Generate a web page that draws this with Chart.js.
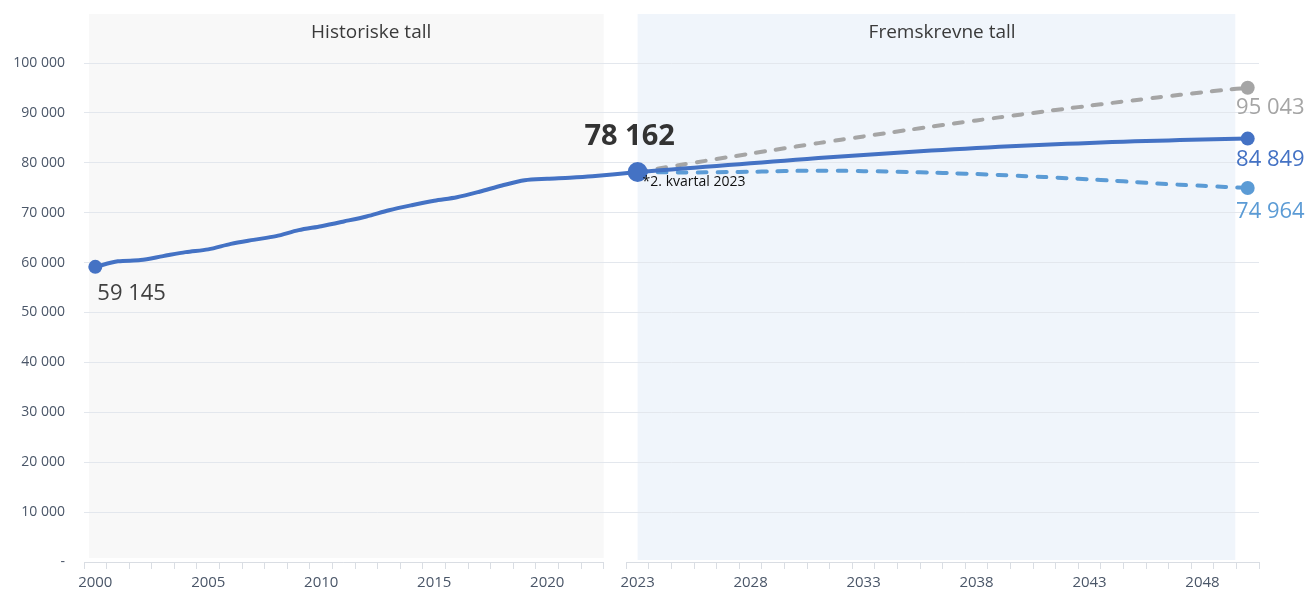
<!DOCTYPE html>
<html>
<head>
<meta charset="utf-8">
<script src="https://cdn.jsdelivr.net/npm/chart.js@4.4.1/dist/chart.umd.min.js"></script>
<style>
  html, body { margin: 0; padding: 0; background: #fff; }
  #wrap { width: 1308px; height: 597px; position: relative; }
</style>
</head>
<body>
<div id="wrap"><canvas id="chart"></canvas></div>
<script>
// Historical figures (2023 = 2. kvartal)
const histYears = [2000, 2001, 2002, 2003, 2004, 2005, 2006, 2007, 2008, 2009, 2010, 2011,
  2012, 2013, 2014, 2015, 2016, 2017, 2018, 2019, 2020, 2021, 2022];
const histValues = [59145, 60250, 60500, 61300, 62100, 62650, 63750, 64550, 65300, 66500, 67300,
  68250, 69250, 70500, 71500, 72400, 73100, 74200, 75450, 76500, 76800, 77000, 77300];

// Projected figures, three alternatives
const projYears = [2023, 2024, 2025, 2026, 2027, 2028, 2029, 2030, 2031, 2032, 2033, 2034, 2035,
  2036, 2037, 2038, 2039, 2040, 2041, 2042, 2043, 2044, 2045, 2046, 2047, 2048, 2049, 2050];
const mainValues = [78162, 78500, 78850, 79200, 79550, 79900, 80250, 80600, 80950, 81250, 81550,
  81850, 82150, 82450, 82700, 82950, 83200, 83400, 83600, 83800, 83980, 84150, 84300, 84430,
  84550, 84660, 84760, 84849];
const highValues = [78162, 78900, 79650, 80390, 81120, 81840, 82550, 83250, 83940, 84620, 85290,
  85950, 86600, 87240, 87870, 88490, 89100, 89700, 90290, 90870, 91440, 92000, 92550, 93090,
  93620, 94140, 94600, 95043];
const lowValues = [78162, 78100, 78050, 78100, 78150, 78200, 78300, 78380, 78420, 78400, 78330,
  78250, 78150, 78050, 77900, 77740, 77560, 77360, 77150, 76920, 76680, 76420, 76150, 75850,
  75600, 75380, 75160, 74964];

const xTickYears = [2000, 2005, 2010, 2015, 2020, 2023, 2028, 2033, 2038, 2043, 2048];
const yTicks = [0, 10000, 20000, 30000, 40000, 50000, 60000, 70000, 80000, 90000, 100000];
const panelTitles = ["Historiske tall", "Fremskrevne tall"];
const footnote = "*2. kvartal 2023";

const BLUE = "#4472c4";
const GRAY = "#a5a5a5";
const LIGHT = "#5b9bd5";
const FONT = "'Open Sans', 'Noto Sans', sans-serif";

// one empty slot between the historical and projected parts
const gapIndex = histYears.length;
const projStart = gapIndex + 1;
const labels = [...histYears.map(String), "", ...projYears.map(String)];
const lastIndex = labels.length - 1;

const histData = [...histValues, null, mainValues[0], ...Array(projYears.length - 1).fill(null)];
const padProj = (arr) => [...Array(projStart).fill(null), ...arr];

const fmt = (v) => String(v).replace(/\B(?=(\d{3})+(?!\d))/g, " ");

// Background panels, headers and the split x-axis line
const panels = {
  id: "panels",
  beforeDraw(chart) {
    const { ctx, chartArea } = chart;
    const x = chart.scales.x;
    const slot = x.getPixelForValue(1) - x.getPixelForValue(0);
    const histLeft = x.getPixelForValue(0) - slot * 0.28;
    const histRight = x.getPixelForValue(gapIndex) - slot / 2;
    const projLeft = x.getPixelForValue(projStart);
    const projRight = x.getPixelForValue(lastIndex) - slot * 0.55;
    const top = 14;
    ctx.save();
    ctx.fillStyle = "#f8f8f8";
    ctx.fillRect(histLeft, top, histRight - histLeft, chartArea.bottom - 4 - top);
    ctx.fillStyle = "#f0f5fb";
    ctx.fillRect(projLeft, top, projRight - projLeft, chartArea.bottom - 2 - top);

    ctx.fillStyle = "#3a3a3a";
    ctx.font = "19px " + FONT;
    ctx.textAlign = "center";
    ctx.textBaseline = "middle";
    ctx.fillText(panelTitles[0], (histLeft + projLeft) / 2 + slot * 0.35, 33);
    ctx.fillText(panelTitles[1], (projLeft + slot * 0.5 + projRight) / 2, 33);
    ctx.restore();
  },
  afterDraw(chart) {
    const { ctx, chartArea } = chart;
    const x = chart.scales.x;
    const slot = x.getPixelForValue(1) - x.getPixelForValue(0);
    const y = Math.round(chartArea.bottom) + 0.5;
    ctx.save();
    ctx.strokeStyle = "#d9dde3";
    ctx.lineWidth = 1;
    ctx.beginPath();
    ctx.moveTo(x.getPixelForValue(0) - slot / 2, y);
    ctx.lineTo(x.getPixelForValue(gapIndex) - slot / 2, y);
    ctx.moveTo(x.getPixelForValue(gapIndex) + slot / 2, y);
    ctx.lineTo(x.getPixelForValue(lastIndex) + slot / 2, y);
    ctx.stroke();
    ctx.restore();
  }
};

// Value labels next to the marked points
const valueLabels = {
  id: "valueLabels",
  afterDatasetsDraw(chart) {
    const { ctx } = chart;
    const pt = (ds, i) => chart.getDatasetMeta(ds).data[i];
    ctx.save();
    ctx.textBaseline = "middle";

    let p = pt(0, 0);
    ctx.font = "22px " + FONT;
    ctx.fillStyle = "#404040";
    ctx.textAlign = "left";
    ctx.fillText(fmt(histValues[0]), p.x + 2, p.y + 27);

    p = pt(0, projStart);
    ctx.font = "bold 29px " + FONT;
    ctx.fillStyle = "#333";
    ctx.textAlign = "center";
    ctx.fillText(fmt(mainValues[0]), p.x - 8, p.y - 35);

    ctx.font = "14px " + FONT;
    ctx.fillStyle = "#111";
    ctx.textAlign = "left";
    ctx.fillText(footnote, p.x + 5, p.y + 10);

    ctx.font = "22px " + FONT;
    ctx.textAlign = "right";
    const ends = [[2, highValues, GRAY, 20], [1, mainValues, BLUE, 21], [3, lowValues, LIGHT, 24]];
    ends.forEach(([ds, arr, color, dy]) => {
      const q = pt(ds, lastIndex);
      ctx.fillStyle = color;
      ctx.fillText(fmt(arr[arr.length - 1]), q.x + 57, q.y + dy);
    });
    ctx.restore();
  }
};

const lastDot = (r) => (c) => (c.dataIndex === lastIndex ? r : 0);

new Chart(document.getElementById("chart"), {
  type: "line",
  data: {
    labels: labels,
    datasets: [
      {
        label: "Historiske tall",
        data: histData,
        borderColor: BLUE,
        backgroundColor: BLUE,
        borderWidth: 4,
        spanGaps: true,
        tension: 0.3,
        pointRadius: (c) => (c.dataIndex === 0 ? 7 : c.dataIndex === projStart ? 10 : 0),
        pointBorderWidth: 0,
      },
      {
        label: "Hovedalternativ",
        data: padProj(mainValues),
        borderColor: BLUE,
        backgroundColor: BLUE,
        borderWidth: 4,
        tension: 0.3,
        pointRadius: lastDot(7),
        pointBorderWidth: 0,
      },
      {
        label: "Høy",
        data: padProj(highValues),
        borderColor: GRAY,
        backgroundColor: GRAY,
        borderWidth: 4,
        borderDash: [9, 11],
        borderCapStyle: "round",
        tension: 0.3,
        pointRadius: lastDot(7),
        pointBorderWidth: 0,
      },
      {
        label: "Lav",
        data: padProj(lowValues),
        borderColor: LIGHT,
        backgroundColor: LIGHT,
        borderWidth: 4,
        borderDash: [9, 11],
        borderCapStyle: "round",
        tension: 0.3,
        pointRadius: lastDot(7),
        pointBorderWidth: 0,
      },
    ],
  },
  options: {
    responsive: true,
    maintainAspectRatio: false,
    animation: false,
    layout: { padding: { top: 63, right: 49, left: 0, bottom: 0 } },
    plugins: { legend: { display: false }, tooltip: { enabled: false } },
    scales: {
      x: {
        offset: true,
        border: { display: false },
        grid: {
          offset: true,
          drawOnChartArea: false,
          drawTicks: true,
          tickLength: 7,
          color: "#d9dde3",
        },
        ticks: {
          autoSkip: false,
          maxRotation: 0,
          padding: 5,
          color: "#4a5668",
          font: { family: FONT, size: 15 },
          callback: (v, i) => (xTickYears.includes(Number(labels[i])) ? labels[i] : ""),
        },
      },
      y: {
        min: yTicks[0],
        max: yTicks[yTicks.length - 1],
        border: { display: false },
        afterBuildTicks: (s) => { s.ticks = yTicks.map((v) => ({ value: v })); },
        afterFit: (s) => { s.width = 84; },
        grid: {
          drawTicks: false,
          color: (c) => (c.tick && c.tick.value === 0 ? "rgba(0,0,0,0)" : "#e3e7ed"),
        },
        ticks: {
          padding: 19,
          color: "#4a5668",
          font: { family: FONT, size: 14 },
          callback: (v) => (v === 0 ? "-" : fmt(v)),
        },
      },
    },
  },
  plugins: [panels, valueLabels],
});
</script>
</body>
</html>
